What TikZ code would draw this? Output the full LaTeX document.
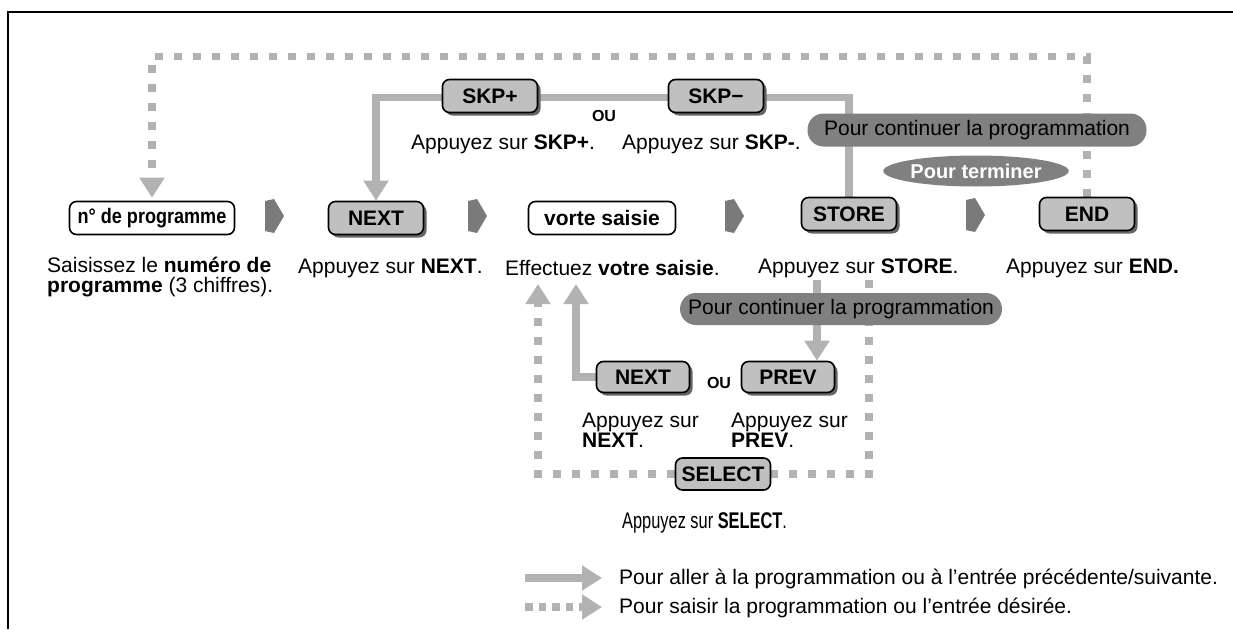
\documentclass[tikz,border=0pt]{standalone}
\usepackage{fontspec}
\setmainfont{Liberation Sans}
\usetikzlibrary{arrows.meta,positioning,shapes.geometric,shadows,backgrounds,calc}
\definecolor{keygray}{RGB}{192,192,192}
\definecolor{linegray}{RGB}{178,178,178}
\definecolor{pillgray}{RGB}{128,128,128}
\definecolor{chevgray}{RGB}{122,122,122}
\tikzset{
  key/.style={draw=black,fill=#1,line width=1.6pt,rounded corners=7pt,
    minimum width=95pt,minimum height=33pt,inner sep=0pt,
    font=\fontsize{21}{21}\selectfont\bfseries},
  key/.default=keygray,
  shadow key/.style={key,drop shadow={shadow xshift=3pt,shadow yshift=-3pt,
    fill=black!60,opacity=1}},
  pill/.style={fill=pillgray,rounded corners=16pt,minimum height=33pt,inner sep=0pt,
    font=\fontsize{21}{21}\selectfont},
  desc/.style={anchor=west,align=left,inner sep=0pt,font=\fontsize{21}{20}\selectfont},
  orword/.style={inner sep=0pt,font=\fontsize{16}{16}\selectfont\bfseries},
  flow/.style={draw=linegray,line width=7.5pt,-{Triangle[width=24pt,length=20pt]}},
  dash flow/.style={flow,dash pattern=on 8pt off 11pt},
  % pictograms
  pics/chevron/.style={code={
    \fill[chevgray] (0,-15) -- (9,-17) -- (19,0) -- (9,17) -- (0,15) -- cycle;
  }},
}
\begin{document}
\begin{tikzpicture}[x=1pt,y=-1pt]
  \useasboundingbox (0,0) rectangle (1233,629);
  \draw[line width=2.5pt] (8,629) -- (8,12) -- (1233,12);

  % main row
  \node[key=white,minimum width=165pt] (prog) at (152,218) {\scalebox{0.86}[1]{n° de programme}};
  \node[shadow key] (next) at (376,218) {NEXT};
  \node[key=white,minimum width=147pt] (entry) at (602,218) {vorte saisie};
  \node[shadow key] (store) at (849,214) {STORE};
  \node[shadow key] (endkey) at (1087,214) {END};
  \foreach \x/\y in {265/216,468/216,725/216,966/215}
    \pic at (\x,\y) {chevron};

  % skip keys
  \node[shadow key] (skpplus) at (490,96) {SKP+};
  \node[shadow key] (skpminus) at (716,96) {SKP−};
  \node[orword] (or1) at (604,116) {OU};

  % lower keys
  \node[shadow key,minimum width=93pt,minimum height=31pt] (next2) at (643,377) {NEXT};
  \node[shadow key,minimum width=93pt,minimum height=31pt] (prev) at (788,377) {PREV};
  \node[orword] (or2) at (719,383) {OU};
  \node[key,minimum height=32pt] (select) at (723,474) {SELECT};

  % texts
  \node[desc] (dprog) at (47,277) {Saisissez le \textbf{numéro de}\\\textbf{programme} (3 chiffres).};
  \node[desc] (dnext) at (298,268) {Appuyez sur \textbf{NEXT}.};
  \node[desc] (dentry) at (505,268) {Effectuez \textbf{votre saisie}.};
  \node[desc] (dstore) at (758,268) {Appuyez sur \textbf{STORE}.};
  \node[desc] (dend) at (1006,268) {Appuyez sur \textbf{END.}};
  \node[desc] (dskpplus) at (411,144) {Appuyez sur \textbf{SKP+}.};
  \node[desc] (dskpminus) at (622,144) {Appuyez sur \textbf{SKP-}.};
  \node[desc,font=\fontsize{21}{18}\selectfont] (dnext2) at (582,430) {Appuyez sur\\\textbf{NEXT}.};
  \node[desc,font=\fontsize{21}{18}\selectfont] (dprev) at (731,430) {Appuyez sur\\\textbf{PREV}.};
  \node[desc] (dselect) at (622,523) {\scalebox{0.78}[1.08]{Appuyez sur \textbf{SELECT}.}};

  % legend
  \node[desc] (leg1) at (619,579) {Pour aller à la programmation ou à l'entrée précédente/suivante.};
  \node[desc] (leg2) at (619,608) {Pour saisir la programmation ou l'entrée désirée.};
  \coordinate (l1) at (525,578);
  \coordinate (l2) at (525,607);

  \coordinate (s1) at (817,280);
  \coordinate (s2) at (869,280);
  \coordinate (t1) at (538,284);
  \coordinate (t2) at (576,284);

  \begin{scope}[on background layer]
    \draw[dash flow,shorten >=3pt] (endkey.north) -- ++(0,-140) -| (prog.north);
    \draw[flow] (store.north) -- ++(0,-99) -| (next.north);
    \draw[flow] (s1) -- (s1 |- prev.north);
    \draw[dash flow,-] (s2) |- (select.east);
    \draw[dash flow] (select.west) -| (t1);
    \draw[flow] (next2.west) -| (t2);
    \draw[flow,shorten >=17pt] (l1) -- (l1 -| leg1.west);
    \draw[flow,dash pattern=on 7.5pt off 6pt,shorten >=17pt] (l2) -- (l2 -| leg2.west);
  \end{scope}

  % banners
  \node[pill,minimum width=339pt] (cont1) at (977,130) {Pour continuer la programmation};
  \node[ellipse,fill=pillgray,minimum width=164pt,minimum height=31pt,inner sep=0pt,
    text=white,font=\fontsize{20}{20}\selectfont\bfseries] (finish) at (976,171) {Pour terminer};
  \node[pill,minimum width=322pt,minimum height=32pt] (cont2) at (841,309) {Pour continuer la programmation};
\end{tikzpicture}
\end{document}
